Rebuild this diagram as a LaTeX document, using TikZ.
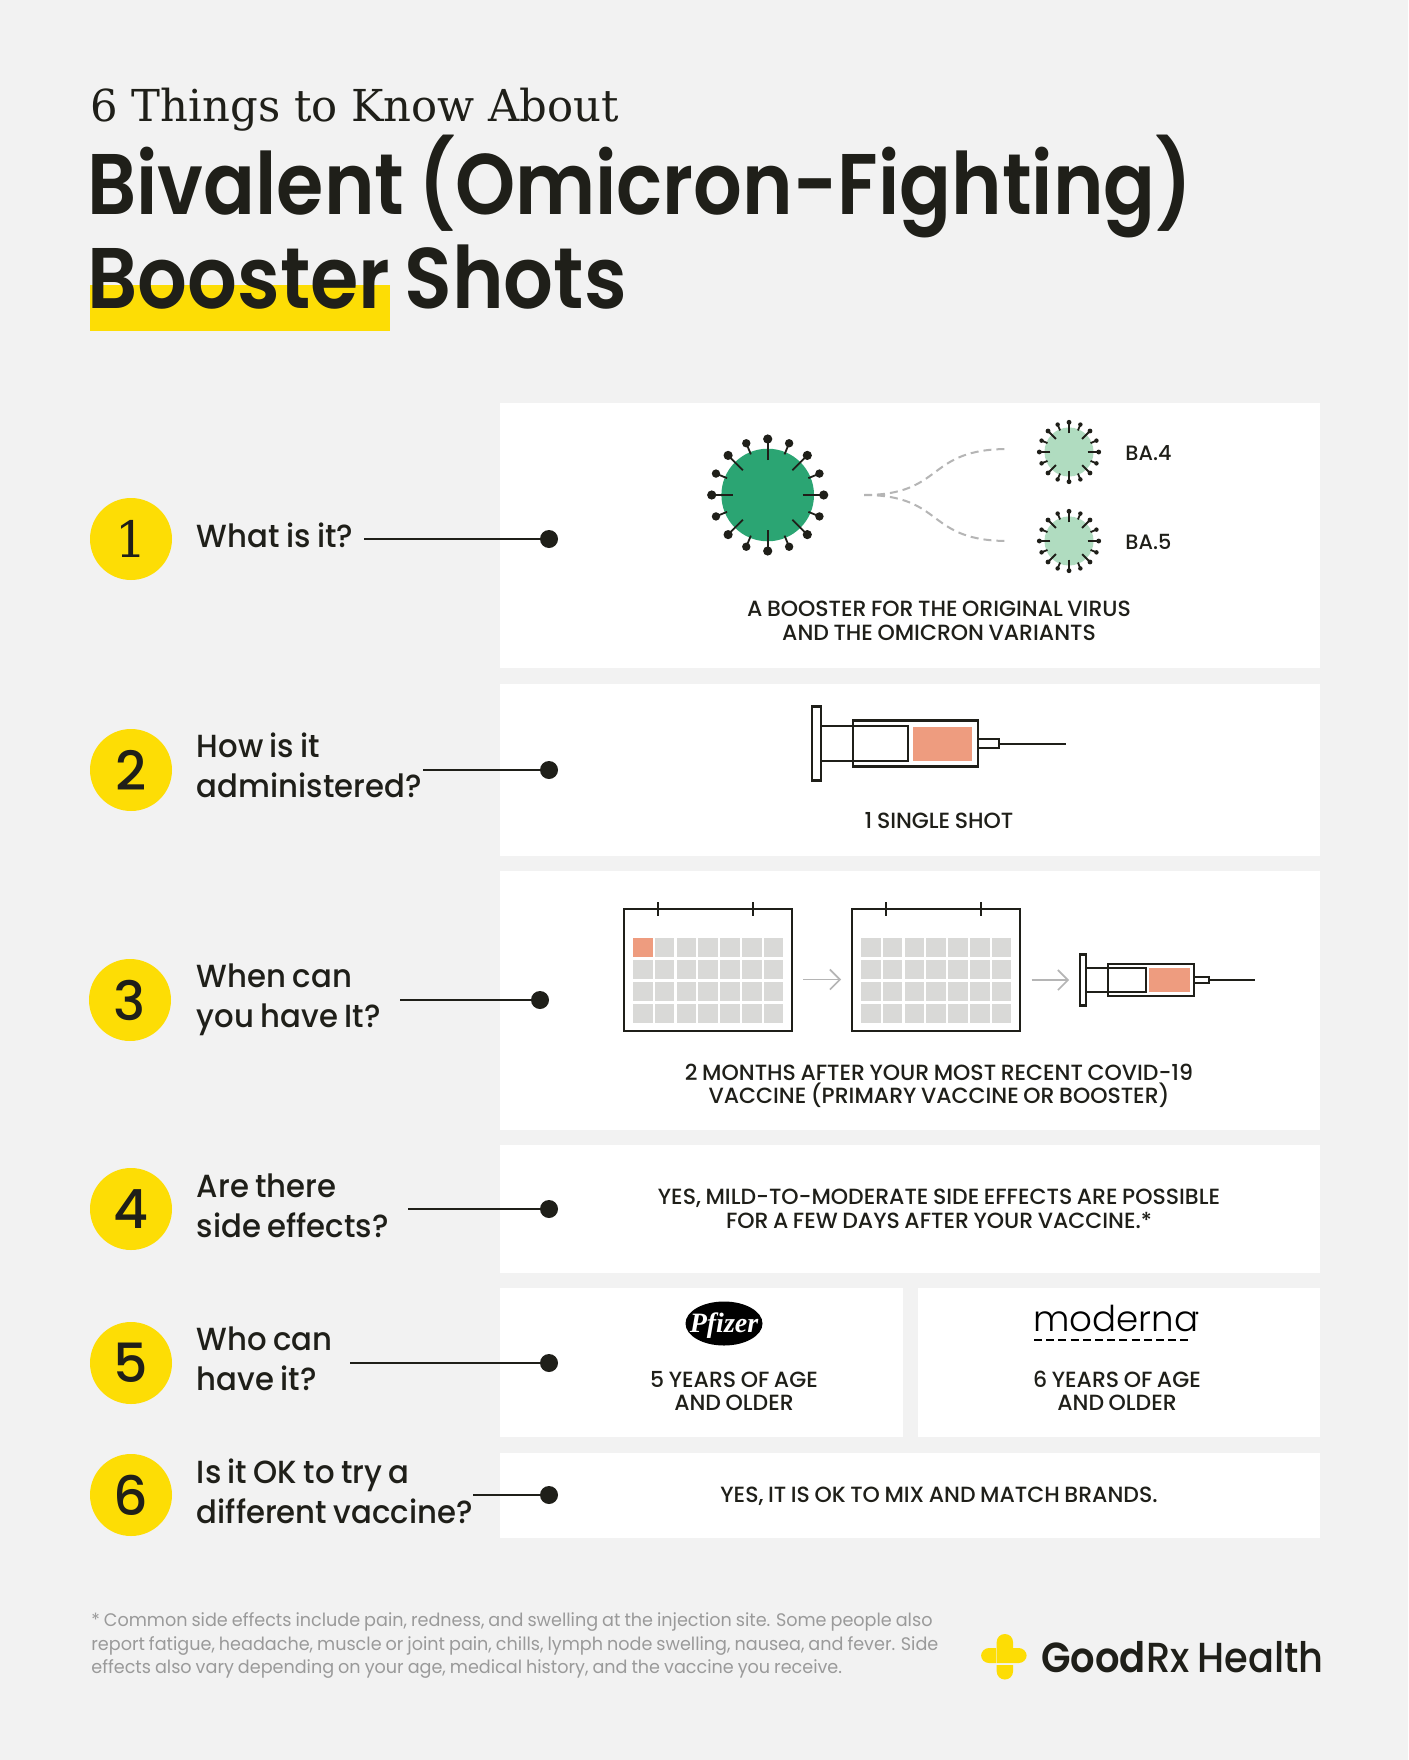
\documentclass[tikz,border=0pt]{standalone}
\usepackage{fontspec}
\setmainfont{Poppins}[UprightFont=*-Medium,BoldFont=*-SemiBold,WordSpace=0.8]
\newfontfamily\slabfont{DejaVu Serif}[FakeStretch=0.985]
\newfontfamily\headfont{Poppins}[UprightFont=*-SemiBold,FakeStretch=0.91,WordSpace=0.75]
\newfontfamily\headlongfont{Poppins}[UprightFont=*-SemiBold,FakeStretch=0.89,WordSpace=0.75]
\newfontfamily\quesfont{Poppins}[UprightFont=*-Medium,FakeStretch=0.96,WordSpace=0.8]
\newfontfamily\notefont{Poppins}[FakeStretch=0.967,WordSpace=0.85]
\newfontfamily\brandfont{Poppins}[UprightFont=*-Medium,BoldFont=*-SemiBold,FakeStretch=0.915,WordSpace=0.8]
\newfontfamily\lightfont{Poppins}[UprightFont=*-Light]
\newfontfamily\pfizerfont{Liberation Serif}
\usetikzlibrary{arrows.meta}
\definecolor{pagegray}{HTML}{F2F2F2}
\definecolor{inkdark}{HTML}{1F1F19}
\definecolor{sunyellow}{HTML}{FDDD05}
\definecolor{virusgreen}{HTML}{2BA573}
\definecolor{virusmint}{HTML}{B0DCC0}
\definecolor{doseorange}{HTML}{EE9C7F}
\definecolor{cellgray}{HTML}{D9D9D7}
\definecolor{dashgray}{HTML}{B5B5B5}
\definecolor{notegray}{HTML}{9A9A9A}
\tikzset{
  numdisc/.style={circle,fill=sunyellow,minimum size=41pt,inner sep=0pt,text=inkdark,font=\fontsize{27}{27}\selectfont},
  questext/.style={anchor=west,inner sep=0pt,align=left,text=inkdark,font=\quesfont\fontsize{16}{20}\selectfont},
  paneltext/.style={anchor=center,inner sep=0pt,align=center,text=inkdark,font=\fontsize{11}{11.8}\selectfont},
  enddot/.style={circle,fill=inkdark,minimum size=9pt,inner sep=0pt},
  leader/.style={draw=inkdark,line width=0.8pt},
  strainline/.style={draw=dashgray,line width=1pt,dash pattern=on 4pt off 2.5pt},
  calarrow/.style={draw=dashgray,line width=0.8pt,-{Straight Barb[length=5pt,width=10pt]}},
  virus/.pic={
    \fill[pic actions](0,0)circle(23.15pt);
    \foreach \a in {0,45,...,315}{
      \draw[inkdark,line width=.9pt](\a:35)--(\a:56);
      \fill[inkdark](\a:56)circle(2.3pt);
    }
    \foreach \a in {22.5,67.5,...,337.5}{
      \draw[inkdark,line width=.9pt](\a:44)--(\a:56);
      \fill[inkdark](\a:56)circle(2.1pt);
    }
  },
  syringe/.pic={
    \draw[inkdark,line width=1.1pt,fill=white](-41,-37)rectangle(-32,37);
    \draw[inkdark,line width=1.1pt](-32,-17.5)--(0,-17.5);
    \draw[inkdark,line width=1.1pt](-32,17.5)--(0,17.5);
    \draw[inkdark,line width=1.1pt](0,-23)rectangle(125,23);
    \draw[inkdark,line width=1.1pt](0,-17.5)rectangle(55,17.5);
    \fill[doseorange](60,-17)rectangle(119,17.5);
    \draw[inkdark,line width=1.1pt](125,-4.5)rectangle(146,4.5);
    \draw[inkdark,line width=1pt](146,0)--(213,0);
  },
  calsheet/.pic={
    \draw[inkdark,line width=1.1pt,fill=white](0,0)rectangle(168,122);
    \draw[inkdark,line width=.8pt](33.7,-7)--(33.7,7);
    \draw[inkdark,line width=.8pt](129,-7)--(129,7);
    \foreach \c in {0,...,6}{
      \foreach \r in {0,...,3}{
        \fill[cellgray]({9+\c*21.8},{28.6+\r*22})rectangle++(19.5,19.4);
      }
    }
  }
}
\begin{document}
\begin{tikzpicture}[x=0.5pt,y=-0.5pt]
  \useasboundingbox(0,0)rectangle(1408,1760);
  \fill[pagegray](0,0)rectangle(1408,1760);
  % Heading
  \fill[sunyellow](90,285)rectangle(389.5,331);
  \node[anchor=base west,inner sep=0pt,text=inkdark,font=\slabfont\fontsize{22}{22}\selectfont](kicker)at(90,122){6 Things to Know About};
  \node[anchor=base west,inner sep=0pt,text=inkdark,font=\headlongfont\fontsize{43}{43}\selectfont](headone)at(87,214){Bivalent (Omicron-Fighting)};
  \node[anchor=base west,inner sep=0pt,text=inkdark,font=\headfont\fontsize{43}{43}\selectfont](headtwo)at(87,308){Booster Shots};
  % Panels
  \fill[white](500,403)rectangle(1320,668);
  \fill[white](500,684)rectangle(1320,856);
  \fill[white](500,871)rectangle(1320,1130);
  \fill[white](500,1145)rectangle(1320,1273);
  \fill[white](500,1288)rectangle(903,1437);
  \fill[white](918,1288)rectangle(1320,1437);
  \fill[white](500,1453)rectangle(1320,1538);
  % Numbers
  \node[numdisc,font=\slabfont\fontsize{25}{25}\selectfont](num1)at(131,539){1};
  \node[numdisc](num2)at(131,770){2};
  \node[numdisc](num3)at(130,1000){3};
  \node[numdisc](num4)at(131,1209){4};
  \node[numdisc](num5)at(131,1363){5};
  \node[numdisc](num6)at(131,1495){6};
  % Questions
  \node[questext](ques1)at(196.5,535){What is it?};
  \node[questext](ques2)at(196.5,765){How is it\\administered?};
  \node[questext](ques3)at(196.5,1000){When can\\you have It?};
  \node[questext](ques4)at(196.5,1206){Are there\\side effects?};
  \node[questext](ques5)at(196.5,1359){Who can\\have it?};
  \node[questext](ques6)at(196.5,1491){Is it OK to try a\\different vaccine?};
  % Leaders
  \coordinate(lead1)at(364,539);
  \coordinate(lead2)at(423,770);
  \coordinate(lead3)at(400,1000);
  \coordinate(lead4)at(408,1209);
  \coordinate(lead5)at(350,1363);
  \coordinate(lead6)at(473,1495);
  \node[enddot](dot1)at(549,539){};
  \node[enddot](dot2)at(549,770){};
  \node[enddot](dot3)at(540,1000){};
  \node[enddot](dot4)at(549,1209){};
  \node[enddot](dot5)at(549,1363){};
  \node[enddot](dot6)at(549,1495){};
  \draw[leader](lead1)--(dot1);
  \draw[leader](lead2)--(dot2);
  \draw[leader](lead3)--(dot3);
  \draw[leader](lead4)--(dot4);
  \draw[leader](lead5)--(dot5);
  \draw[leader](lead6)--(dot6);
  % Viruses
  \pic[fill=virusgreen]at(767.7,495){virus};
  \pic[fill=virusmint,scale=.53]at(1069,452){virus};
  \pic[fill=virusmint,scale=.53]at(1069,541){virus};
  \coordinate(fork)at(864,495);
  \coordinate(strain4)at(1008,449);
  \coordinate(strain5)at(1008,541);
  \draw[strainline](fork)..controls(945,495)and(925,449)..(strain4);
  \draw[strainline](fork)..controls(945,495)and(925,541)..(strain5);
  \node[anchor=west,inner sep=0pt,text=inkdark,font=\fontsize{10.4}{11.8}\selectfont](ba4)at(1125,453){BA.4};
  \node[anchor=west,inner sep=0pt,text=inkdark,font=\fontsize{10.4}{11.8}\selectfont](ba5)at(1125,542){BA.5};
  \node[paneltext](ans1)at(939,621){A BOOSTER FOR THE ORIGINAL VIRUS\\AND THE OMICRON VARIANTS};
  % Syringe
  \pic at(853,743.5){syringe};
  \node[paneltext](ans2)at(939,821){1 SINGLE SHOT};
  % Calendars
  \pic at(624,909){calsheet};
  \pic at(852,909){calsheet};
  \fill[doseorange](633,937.6)rectangle++(19.5,19.4);
  \pic[scale=.69]at(1108,980){syringe};
  \coordinate(gapa1)at(803,979.5);
  \coordinate(gapa2)at(841,979.5);
  \coordinate(gapb1)at(1031.5,980);
  \coordinate(gapb2)at(1069,980);
  \draw[calarrow](gapa1)--(gapa2);
  \draw[calarrow](gapb1)--(gapb2);
  \node[paneltext](ans3)at(939,1086){2 MONTHS AFTER YOUR MOST RECENT COVID-19\\VACCINE (PRIMARY VACCINE OR BOOSTER)};
  % Side effects
  \node[paneltext](ans4)at(939,1209){YES, MILD-TO-MODERATE SIDE EFFECTS ARE POSSIBLE\\FOR A FEW DAYS AFTER YOUR VACCINE.*};
  % Brands
  \fill[black](724,1323.5)ellipse(19.25pt and 11pt);
  \node[inner sep=0pt,text=white,font=\pfizerfont\bfseries\itshape\fontsize{14}{14}\selectfont](pfizer)at(724,1325.5){Pfizer};
  \node[anchor=base west,inner sep=0pt,text=black,font=\lightfont\fontsize{17.8}{17.8}\selectfont](moderna)at(1033,1331.5){moderna};
  \fill[black](1197,1313)circle(.8pt);
  \coordinate(dashl)at(1034,1340);
  \coordinate(dashr)at(1192,1340);
  \draw[black,line width=.6pt,dash pattern=on 4pt off 2.1pt](dashl)--(dashr);
  \node[paneltext](ans5a)at(734,1391){5 YEARS OF AGE\\AND OLDER};
  \node[paneltext](ans5b)at(1117,1391){6 YEARS OF AGE\\AND OLDER};
  % Mix and match
  \node[paneltext](ans6)at(939,1496){YES, IT IS OK TO MIX AND MATCH BRANDS.};
  % Footnote
  \node[anchor=west,inner sep=0pt,align=left,text=notegray,font=\notefont\fontsize{9.1}{11.8}\selectfont](note)at(91,1645.5){* Common side effects include pain, redness, and swelling at the injection site. Some people also\\report fatigue, headache, muscle or joint pain, chills, lymph node swelling, nausea, and fever. Side\\effects also vary depending on your age, medical history, and the vaccine you receive.};
  % Logo
  \fill[sunyellow](996.7,1663)--(996.7,1645)[rounded corners=4pt]--(996.7,1634)--(1013,1634)[sharp corners]--(1013,1648)[rounded corners=4pt]--(1026.7,1648)--(1026.7,1663)[sharp corners]--cycle;
  \fill[sunyellow](996,1663)[rounded corners=4pt]--(981,1663)--(981,1648)[sharp corners]--(996,1648)--cycle;
  \fill[sunyellow](996.7,1665)[rounded corners=4pt]--(996.7,1679.5)--(1013,1679.5)[sharp corners]--(1013,1665)--cycle;
  \node[anchor=base west,inner sep=0pt,text=inkdark,font=\brandfont\fontsize{21}{21}\selectfont](brand)at(1041,1672){\textbf{Good}Rx Health};
\end{tikzpicture}
\end{document}
